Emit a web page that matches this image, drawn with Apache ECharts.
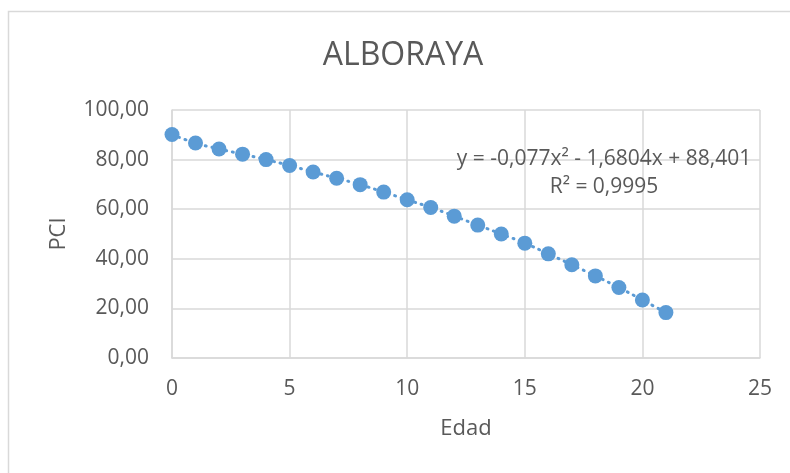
<!DOCTYPE html>
<html>
<head>
<meta charset="utf-8">
<script src="https://cdn.jsdelivr.net/npm/echarts@6/dist/echarts.min.js"></script>
<style>
html,body{margin:0;padding:0;background:#fff;}
#chart{width:790px;height:473px;}
</style>
</head>
<body>
<div id="chart"></div>
<script>
// Data
var edad = [0,1,2,3,4,5,6,7,8,9,10,11,12,13,14,15,16,17,18,19,20,21];
var pci = [90.1,86.7,84.3,82.2,80.0,77.6,75.0,72.5,69.9,66.9,63.8,60.7,57.2,53.6,50.0,46.3,42.0,37.6,33.1,28.4,23.4,18.3];
var xTicks = [0,5,10,15,20,25];
var yTicks = ['0,00','20,00','40,00','60,00','80,00','100,00'];
var titleText = 'ALBORAYA';
var xName = 'Edad';
var yName = 'PCI';
var eqLine1 = 'y = -0,077x\u00B2 - 1,6804x + 88,401';
var eqLine2 = 'R\u00B2 = 0,9995';

var points = edad.map(function(x,i){return [x, pci[i]];});
var FONT = '"Open Sans", sans-serif';
var TXT = '#595959';
var GRID = '#D9D9D9';
var BLUE = '#5B9BD5';

var chart = echarts.init(document.getElementById('chart'), null, {renderer:'canvas'});
chart.setOption({
  backgroundColor:'#fff',
  animation:false,
  grid:{left:172, right:30, top:110, bottom:115, containLabel:false},
  xAxis:{
    type:'value', min:0, max:25, interval:5,
    name:xName, nameLocation:'middle', nameGap:60,
    nameTextStyle:{color:TXT, fontSize:22, fontFamily:FONT},
    axisLine:{show:true, lineStyle:{color:GRID, width:1.5}},
    axisTick:{show:false},
    splitLine:{show:true, lineStyle:{color:GRID, width:1.5}},
    axisLabel:{color:TXT, fontSize:21, fontFamily:FONT, margin:21,
      formatter:function(v){return xTicks.indexOf(v)>=0 ? String(v) : '';}}
  },
  yAxis:{
    type:'value', min:0, max:100, interval:20,
    name:yName, nameLocation:'middle', nameGap:102,
    nameTextStyle:{color:TXT, fontSize:22, fontFamily:FONT},
    axisLine:{show:true, lineStyle:{color:GRID, width:1.5}},
    axisTick:{show:false},
    splitLine:{show:true, lineStyle:{color:GRID, width:1.5}},
    axisLabel:{color:TXT, fontSize:21, fontFamily:FONT, margin:23,
      formatter:function(v){return yTicks[Math.round(v/20)];}}
  },
  graphic:[
    {type:'rect', shape:{x:8.5, y:11.5, width:800, height:500}, style:{fill:'none', stroke:GRID, lineWidth:1.5}, z:-1},
    {type:'text', x:403, y:56, style:{text:titleText, fill:TXT, font:'32px '+FONT, textAlign:'center', textVerticalAlign:'middle'}},
    {type:'text', x:604, y:159, style:{text:eqLine1, fill:TXT, font:'21px '+FONT, textAlign:'center', textVerticalAlign:'middle'}, z:10},
    {type:'text', x:604, y:187, style:{text:eqLine2, fill:TXT, font:'21px '+FONT, textAlign:'center', textVerticalAlign:'middle'}, z:10}
  ],
  series:[
    {
      type:'line', data:points, smooth:true, showSymbol:false, silent:true,
      lineStyle:{color:BLUE, width:3, type:[1,6], cap:'round'}, z:2
    },
    {
      type:'scatter', data:points, symbol:'circle', symbolSize:15,
      itemStyle:{color:BLUE, opacity:1}, z:3
    }
  ]
});
</script>
</body>
</html>
